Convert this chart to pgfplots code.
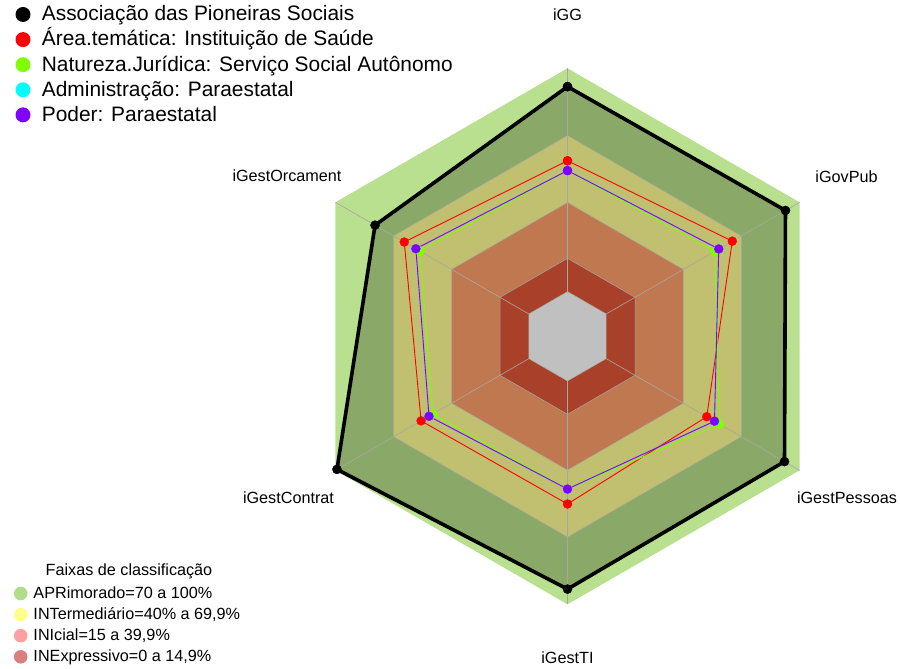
\documentclass[border=0pt]{standalone}
\usepackage{fontspec}
\setmainfont{Liberation Sans}
\usepackage{pgfplots}
\pgfplotsset{compat=1.18}
\usepackage{pgfplotstable}

\definecolor{ltgreen}{HTML}{B8E08E}
\definecolor{dkgreen}{HTML}{8AA868}
\definecolor{bandyel}{HTML}{C0C070}
\definecolor{bandorg}{HTML}{C07850}
\definecolor{bandred}{HTML}{A8402A}
\definecolor{holegray}{HTML}{C0C0C0}
\definecolor{gridgray}{HTML}{A8A8A0}
\definecolor{legAPR}{HTML}{B0DC8C}
\definecolor{legINT}{HTML}{FFFF8C}
\definecolor{legINI}{HTML}{FFA0A0}
\definecolor{legINE}{HTML}{D88080}
\definecolor{serred}{HTML}{FF0000}
\definecolor{sergreen}{HTML}{80FF00}
\definecolor{sercyan}{HTML}{00FFFF}
\definecolor{serpurple}{HTML}{8000FF}

% series: a = angle of the axis (deg), v = value (0..100)
\pgfplotstableread{
a v
90 91.8
30 92.7
-30 92.2
-90 93.2
-150 99.2
150 79.5
90 91.8
}\tblack
\pgfplotstableread{
a v
90 58.6
30 65.2
-30 52.0
-90 55.1
-150 55.7
150 64.4
90 58.6
}\tred
\pgfplotstableread{
a v
90 54.2
30 56.1
-30 58.6
-90 48.4
-150 49.7
150 56.3
90 54.2
}\tgreen
\pgfplotstableread{
a v
90 54.2
30 58.2
-30 56.0
-90 48.4
-150 51.6
150 58.4
90 54.2
}\tcyan
\pgfplotstableread{
a v
90 54.2
30 58.2
-30 56.0
-90 48.4
-150 51.6
150 58.4
90 54.2
}\tpurple
% classification bands (upper limits)
\pgfplotstableread{
a v
90 100
30 100
-30 100
-90 100
-150 100
150 100
90 100
}\tbandA
\pgfplotstableread{
a v
90 69.9
30 69.9
-30 69.9
-90 69.9
-150 69.9
150 69.9
90 69.9
}\tbandB
\pgfplotstableread{
a v
90 39.9
30 39.9
-30 39.9
-90 39.9
-150 39.9
150 39.9
90 39.9
}\tbandC
\pgfplotstableread{
a v
90 14.9
30 14.9
-30 14.9
-90 14.9
-150 14.9
150 14.9
90 14.9
}\tbandD
\pgfplotstableread{
a v
90 0
30 0
-30 0
-90 0
-150 0
150 0
90 0
}\tbandE

\def\RX{567.5+2.2333*(20+\thisrow{v})*cos(\thisrow{a})}
\def\RY{331.7+2.2333*(20+\thisrow{v})*sin(\thisrow{a})}

\tikzset{
  lab/.style={inner sep=0, font=\fontsize{16.2bp}{19bp}\selectfont},
  bigleg/.style={inner sep=0, anchor=base west, font=\fontsize{20.9bp}{25bp}\selectfont},
}

\begin{document}
\begin{tikzpicture}
\begin{axis}[
  scale only axis, width=900bp, height=668bp,
  xmin=0, xmax=900, ymin=0, ymax=668,
  hide axis, clip=false,
]
% bands
\addplot[draw=none, fill=ltgreen, forget plot] table[x expr=\RX, y expr=\RY] {\tbandA};
\addplot[draw=none, fill=dkgreen, forget plot] table[x expr=\RX, y expr=\RY] {\tblack};
\addplot[draw=gridgray, line width=0.5bp, fill=bandyel, forget plot] table[x expr=\RX, y expr=\RY] {\tbandB};
\addplot[draw=gridgray, line width=0.5bp, fill=bandorg, forget plot] table[x expr=\RX, y expr=\RY] {\tbandC};
\addplot[draw=gridgray, line width=0.5bp, fill=bandred, forget plot] table[x expr=\RX, y expr=\RY] {\tbandD};
\addplot[draw=gridgray, line width=0.5bp, fill=holegray, forget plot] table[x expr=\RX, y expr=\RY] {\tbandE};
% spokes
\pgfplotsinvokeforeach{90,30,-30,-90,-150,150}{
  \addplot[gridgray, line width=0.6bp, forget plot] table[row sep=\\, x expr=\RX, y expr=\RY] {a v\\ #1 0\\ #1 100\\};
}
% series
\addplot[black, line width=3.6bp, line join=round, mark=*, mark size=4.6bp, mark options={line width=0.3bp}] table[x expr=\RX, y expr=\RY] {\tblack};
\addplot[serred, line width=0.9bp, mark=*, mark size=4.5bp, mark options={line width=0.3bp}] table[x expr=\RX, y expr=\RY] {\tred};
\addplot[sergreen, line width=0.9bp, mark=*, mark size=4.5bp, mark options={line width=0.3bp}] table[x expr=\RX, y expr=\RY] {\tgreen};
\addplot[sercyan, line width=0.5bp, mark=*, mark size=4.0bp, mark options={line width=0bp}] table[x expr=\RX, y expr=\RY] {\tcyan};
\addplot[serpurple, line width=0.9bp, mark=*, mark size=4.5bp, mark options={line width=0.3bp}] table[x expr=\RX, y expr=\RY] {\tpurple};

% axis labels
\node[lab, anchor=center] at (axis cs:567.5,653) {iGG};
\node[lab, anchor=center] at (axis cs:846.5,491) {iGovPub};
\node[lab, anchor=center] at (axis cs:847,170) {iGestPessoas};
\node[lab, anchor=center] at (axis cs:567.5,10) {iGestTI};
\node[lab, anchor=center] at (axis cs:288.5,170) {iGestContrat};
\node[lab, anchor=center] at (axis cs:287,492) {iGestOrcament};

% series legend
\fill[black]     (axis cs:23,653.5) circle (7.5bp);
\fill[serred]    (axis cs:23,628.4) circle (7.5bp);
\fill[sergreen]  (axis cs:23,603.3) circle (7.5bp);
\fill[sercyan]   (axis cs:23,578.2) circle (7.5bp);
\fill[serpurple] (axis cs:23,553.1) circle (7.5bp);
\node[bigleg] at (axis cs:41.7,647.1) {Associação das Pioneiras Sociais};
\node[bigleg] at (axis cs:41.7,622.0) {Área.temática: Instituição de Saúde};
\node[bigleg] at (axis cs:41.7,596.9) {Natureza.Jurídica: Serviço Social Autônomo};
\node[bigleg] at (axis cs:41.7,571.8) {Administração: Paraestatal};
\node[bigleg] at (axis cs:41.7,546.7) {Poder: Paraestatal};

% classification legend
\node[lab, anchor=base] at (axis cs:129,93) {Faixas de classificação};
\fill[legAPR] (axis cs:20.7,74.5) circle (6.8bp);
\fill[legINT] (axis cs:20.7,53.4) circle (6.8bp);
\fill[legINI] (axis cs:20.7,32.3) circle (6.8bp);
\fill[legINE] (axis cs:20.7,11.2) circle (6.8bp);
\node[lab, anchor=base west] at (axis cs:33.3,69.9) {APRimorado=70 a 100\%};
\node[lab, anchor=base west] at (axis cs:33.3,48.8) {INTermediário=40\% a 69,9\%};
\node[lab, anchor=base west] at (axis cs:33.3,27.7) {INIcial=15 a 39,9\%};
\node[lab, anchor=base west] at (axis cs:33.3,6.6) {INExpressivo=0 a 14,9\%};
\end{axis}
\pgfresetboundingbox
\path[use as bounding box] (current axis.south west) rectangle (current axis.north east);
\end{tikzpicture}
\end{document}
